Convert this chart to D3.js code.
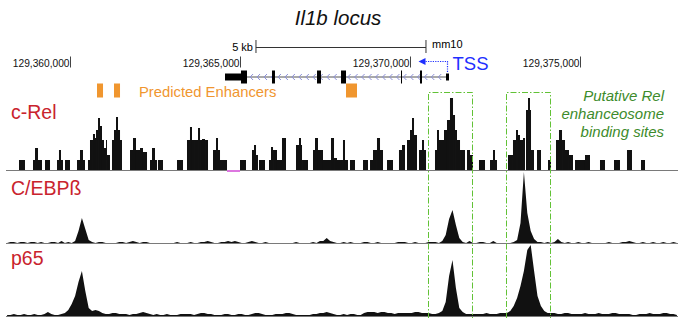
<!DOCTYPE html>
<html>
<head>
<meta charset="utf-8">
<script src="https://cdn.jsdelivr.net/npm/d3@7"></script>
<style>
  body { margin: 0; background: #fff; }
  svg { display: block; font-family: "Liberation Sans", Arial, Helvetica, sans-serif; }
</style>
</head>
<body>
<div id="browser"></div>
<script>
// positions are bp offsets from chr11:129,360,000 (mm10)
var ORIGIN = 129360000;
var viewStart = -1900;
var viewEnd = 17900;
var tickPositions = [0, 5000, 10000, 15000];
var scaleBarStart = 5470;
var scaleBarLength = 5000;

// c-Rel bedGraph: [start, end, reads]
var cRel = [
  [-1500, -1324, 1],
  [-1088, -1029, 1], [-1029, -941, 2.2], [-941, -824, 1],
  [-735, -588, 1],
  [-382, -324, 1], [-324, -265, 2], [-265, -206, 1],
  [-147, 0, 1],
  [206, 294, 1], [294, 382, 2], [382, 441, 1],
  [529, 588, 1], [588, 676, 3], [676, 735, 3.6], [735, 765, 3.2], [765, 824, 4], [824, 882, 5.2],
  [882, 941, 4.4], [941, 1000, 3], [1000, 1059, 2.2], [1059, 1088, 3], [1088, 1176, 1.5],
  [1235, 1294, 3], [1294, 1353, 4], [1353, 1412, 5.3], [1412, 1471, 4], [1471, 1529, 3],
  [1765, 1853, 2], [1853, 1941, 3.2], [1941, 2059, 2],
  [2059, 2147, 2.2], [2147, 2265, 1.8],
  [2353, 2412, 1], [2412, 2500, 2.2], [2500, 2559, 1],
  [2588, 2735, 1],
  [3147, 3324, 1],
  [3441, 3529, 3], [3529, 3588, 4.3], [3588, 3676, 3],
  [3676, 3765, 3], [3765, 3824, 4.2], [3824, 3882, 3],
  [3882, 3971, 3.1], [3971, 4059, 3],
  [4206, 4294, 2], [4294, 4353, 3.2], [4353, 4412, 2],
  [4412, 4618, 1],
  [5000, 5176, 1],
  [5353, 5412, 2], [5412, 5471, 2.5], [5471, 5529, 1.5],
  [5559, 5735, 1],
  [5853, 5912, 1], [5912, 5971, 2.3], [5971, 6088, 2], [6088, 6235, 1], [6235, 6353, 3.2],
  [6647, 6735, 2.5], [6735, 6794, 3.2], [6794, 6824, 2.5],
  [6824, 7000, 1],
  [7147, 7206, 2], [7206, 7294, 3.2], [7294, 7441, 2],
  [7441, 7676, 1], [7676, 7765, 3.2], [7765, 7853, 1.2],
  [7853, 8029, 1], [8029, 8088, 3], [8088, 8176, 1],
  [8235, 8382, 1],
  [8618, 8765, 1],
  [8824, 8912, 1], [8912, 9029, 2], [9029, 9118, 3.2], [9118, 9206, 2],
  [9324, 9500, 1],
  [9676, 9765, 2], [9765, 9853, 2.5],
  [9912, 10000, 3], [10000, 10059, 4], [10059, 10118, 5.2], [10118, 10206, 3.5],
  [10265, 10353, 2], [10353, 10412, 3], [10412, 10471, 2],
  [10735, 10794, 2], [10794, 10853, 4], [10853, 10912, 3], [10912, 11000, 3], [11000, 11088, 4],
  [11088, 11176, 5], [11176, 11265, 7.2], [11265, 11324, 5.5], [11324, 11382, 4],
  [11382, 11471, 3], [11471, 11618, 2],
  [11676, 11765, 2], [11765, 11853, 1.5],
  [12029, 12206, 1],
  [12353, 12441, 1], [12441, 12500, 2], [12500, 12559, 1],
  [12882, 13029, 1.5],
  [13029, 13118, 3], [13118, 13176, 4], [13176, 13235, 3.5],
  [13235, 13324, 3], [13324, 13382, 3.2],
  [13412, 13471, 6], [13471, 13529, 7.2], [13529, 13559, 6],
  [13559, 13647, 2],
  [13735, 13853, 2],
  [14059, 14147, 1],
  [14294, 14382, 3], [14382, 14471, 4], [14471, 14559, 3],
  [14559, 14676, 2], [14676, 14794, 1.5],
  [14853, 15147, 1],
  [15147, 15294, 1.5],
  [15588, 15735, 1],
  [16000, 16176, 1],
  [16382, 16529, 2],
  [16794, 16912, 1]
];
var cRelNoData = [[4618, 5000]];

// fixedStep wiggles, 100 bp bins starting at viewStart
var wigStep = 100;
var cebpb = [
  0, 1, 1, 0, 1, 1, 0, 1, 1, 0,
  1, 0, 0, 1, 1, 0, 2, 0, 1, 0,
  2, 12, 25, 14, 3, 1, 0, 1, 1, 0,
  0, 0, 0, 1, 1, 0, 1, 2, 1, 0,
  1, 1, 0, 0, 0, 0, 0, 0, 0, 0,
  1, 0, 0, 0, 1, 0, 0, 1, 1, 2,
  1, 0, 0, 1, 1, 2, 1, 2, 1, 0,
  0, 1, 2, 1, 0, 0, 1, 0, 0, 0,
  0, 0, 0, 0, 0, 1, 0, 0, 0, 0,
  1, 0, 2, 2, 5, 2, 1, 0, 0, 1,
  0, 1, 0, 0, 0, 1, 1, 0, 0, 1,
  0, 0, 0, 0, 0, 1, 1, 1, 0, 0,
  1, 0, 0, 0, 1, 1, 1, 0, 2, 8,
  24, 33, 18, 5, 1, 0, 2, 0, 0, 1,
  1, 0, 0, 2, 0, 0, 0, 0, 0, 1,
  3, 20, 71, 30, 12, 4, 1, 1, 0, 1,
  0, 1, 4, 1, 0, 1, 0, 0, 1, 0,
  0, 1, 0, 0, 0, 0, 0, 1, 0, 0,
  0, 1, 1, 2, 1, 0, 0, 1, 0, 0,
  1, 0, 0, 1, 0, 0, 1, 0
];
var p65 = [
  1, 1, 2, 1, 1, 2, 1, 1, 2, 1,
  1, 2, 4, 2, 1, 1, 2, 3, 6, 12,
  20, 34, 45, 25, 8, 5, 6, 5, 3, 2,
  2, 3, 3, 2, 2, 2, 1, 2, 2, 3,
  4, 3, 2, 1, 2, 1, 1, 2, 1, 1,
  1, 2, 2, 2, 2, 1, 2, 3, 3, 2,
  2, 1, 1, 1, 2, 2, 1, 1, 2, 2,
  1, 1, 2, 3, 3, 2, 1, 1, 1, 2,
  2, 2, 3, 3, 2, 1, 1, 1, 1, 1,
  2, 2, 3, 3, 4, 3, 2, 1, 1, 2,
  1, 2, 2, 1, 1, 3, 4, 4, 4, 3,
  4, 4, 3, 3, 2, 3, 3, 3, 3, 3,
  4, 4, 3, 3, 3, 2, 2, 3, 5, 14,
  40, 56, 28, 8, 4, 2, 2, 2, 2, 2,
  2, 3, 2, 2, 2, 3, 3, 3, 5, 10,
  18, 30, 45, 66, 71, 45, 20, 10, 5, 3,
  3, 3, 2, 2, 3, 3, 2, 2, 2, 2,
  3, 2, 2, 2, 3, 2, 2, 2, 3, 3,
  2, 2, 2, 2, 1, 1, 2, 2, 2, 3,
  2, 2, 2, 3, 3, 2, 2, 1
];

// Il1b gene model (minus strand)
var exons = [
  [4559, 5029, 'utr'], [5029, 5206, 'cds'], [5941, 6029, 'cds'], [7265, 7382, 'cds'],
  [7971, 8118, 'cds'], [9735, 9765, 'cds'], [10294, 10353, 'cds'], [11059, 11147, 'utr']
];
var intron = [5206, 11059];
var tss = 11103;
var enhancers = [[794, 971], [1294, 1471], [8118, 8441]];
var bindingSites = [[10529, 11824], [12824, 14118]];
var siteLabel = ['Putative Rel', 'enhanceosome', 'binding sites'];

(function(d3) {

  'use strict';

  var Browser = function(element) {
    this.element = element;
    this.width = 678;
    this.height = 318;
    this.svg = null;
    this.x = d3.scaleLinear().domain([viewStart, viewEnd]).range([5.4, 678.6]);
  };

  Browser.prototype = {

    init: function() {
      this.setSvg();
      this.drawHeader();
      this.drawGene();
      this.drawEnhancers();
      this.drawBedGraph(cRel, 170, 7.2);
      this.drawWig(cebpb, 243, 72);
      this.drawWig(p65, 316, 72);
      this.drawLabels();
      this.drawSites();
    },

    setSvg: function() {
      this.svg = d3.select(this.element).append('svg')
        .attr('width', this.width)
        .attr('height', this.height);
    },

    drawHeader: function() {
      var x = this.x;
      this.svg.append('text')
        .attr('x', 338).attr('y', 25)
        .attr('text-anchor', 'middle')
        .style('font-size', '20.5px').style('font-style', 'italic')
        .attr('fill', '#111')
        .text('Il1b locus');

      var bar = this.svg.append('g').attr('stroke', '#333').attr('stroke-width', 1);
      var x0 = x(scaleBarStart), x1 = x(scaleBarStart + scaleBarLength);
      bar.append('line').attr('x1', x0).attr('x2', x1).attr('y1', 47.5).attr('y2', 47.5);
      bar.append('line').attr('x1', x0).attr('x2', x0).attr('y1', 40).attr('y2', 53);
      bar.append('line').attr('x1', x1).attr('x2', x1).attr('y1', 40).attr('y2', 53);
      this.svg.append('text').attr('x', x0 - 3).attr('y', 51)
        .attr('text-anchor', 'end').style('font-size', '11px').text('5 kb');
      this.svg.append('text').attr('x', x1 + 6).attr('y', 48)
        .style('font-size', '11px').text('mm10');

      var axis = d3.axisBottom(x)
        .tickValues(tickPositions)
        .tickSize(11)
        .tickFormat(function(d) { return d3.format(',')(ORIGIN + d); });
      var g = this.svg.append('g').attr('transform', 'translate(0,56.5)').call(axis);
      g.select('.domain').remove();
      g.selectAll('line').attr('stroke', '#444');
      g.selectAll('text')
        .attr('text-anchor', 'end').attr('x', -1).attr('y', 10).attr('dy', 0)
        .attr('fill', '#111')
        .style('font-size', '10.2px')
        .style('font-family', '"Liberation Sans", Arial, sans-serif');
    },

    drawGene: function() {
      var x = this.x, y = 77;
      var g = this.svg.append('g');
      g.append('line')
        .attr('x1', x(intron[0])).attr('x2', x(intron[1]))
        .attr('y1', y).attr('y2', y)
        .attr('stroke', '#555').attr('stroke-width', 1);
      var chevrons = d3.range(intron[0] + 120, intron[1] - 60, 205);
      g.selectAll('path.chev').data(chevrons).enter().append('path')
        .attr('class', 'chev')
        .attr('d', function(d) { var cx = x(d); return 'M' + (cx + 2) + ',' + (y - 3) + 'L' + (cx - 1) + ',' + y + 'L' + (cx + 2) + ',' + (y + 3); })
        .attr('fill', 'none').attr('stroke', '#8b8fd8').attr('stroke-width', 1);
      g.selectAll('rect').data(exons).enter().append('rect')
        .attr('x', function(d) { return x(d[0]); })
        .attr('width', function(d) { return Math.max(1, x(d[1]) - x(d[0])); })
        .attr('y', function(d) { return d[2] === 'utr' ? y - 3.5 : y - 6.5; })
        .attr('height', function(d) { return d[2] === 'utr' ? 7 : 13; })
        .attr('fill', '#000');

      var tx = x(tss);
      g.append('path')
        .attr('d', 'M' + tx + ',72V61.5H' + (x(tss) - 24))
        .attr('fill', 'none').attr('stroke', '#1f2fff')
        .attr('stroke-width', 1.2).attr('stroke-dasharray', '1.2,1.2');
      g.append('path')
        .attr('d', 'M' + (tx - 29) + ',61.5L' + (tx - 22) + ',58L' + (tx - 22) + ',65Z')
        .attr('fill', '#1f2fff');
      g.append('text').attr('x', tx + 5).attr('y', 70)
        .style('font-size', '18.5px').attr('fill', '#1f2fff').text('TSS');
    },

    drawEnhancers: function() {
      var x = this.x;
      this.svg.append('g').selectAll('rect').data(enhancers).enter().append('rect')
        .attr('x', function(d) { return x(d[0]); })
        .attr('width', function(d) { return x(d[1]) - x(d[0]); })
        .attr('y', 83.5).attr('height', 14)
        .attr('fill', '#f0962f');
      this.svg.append('text').attr('x', 139).attr('y', 97)
        .style('font-size', '14.8px').attr('fill', '#f0962f')
        .text('Predicted Enhancers');
    },

    drawBaseline: function(base) {
      this.svg.append('line')
        .attr('x1', 6).attr('x2', 678).attr('y1', base + 0.5).attr('y2', base + 0.5)
        .attr('stroke', '#7a7a7a').attr('stroke-width', 1);
    },

    drawBedGraph: function(data, base, max) {
      var x = this.x;
      var y = d3.scaleLinear().domain([0, max]).range([base, base - 72]);
      this.drawBaseline(base);
      this.svg.append('g').selectAll('rect').data(data).enter().append('rect')
        .attr('x', function(d) { return x(d[0]); })
        .attr('width', function(d) { return x(d[1]) - x(d[0]); })
        .attr('y', function(d) { return y(d[2]); })
        .attr('height', function(d) { return base - y(d[2]); })
        .attr('fill', '#111');
      this.svg.append('g').selectAll('line').data(cRelNoData).enter().append('line')
        .attr('x1', function(d) { return x(d[0]); })
        .attr('x2', function(d) { return x(d[1]); })
        .attr('y1', base + 1).attr('y2', base + 1)
        .attr('stroke', '#dd77e0').attr('stroke-width', 2);
    },

    drawWig: function(values, base, max) {
      var x = this.x;
      var y = d3.scaleLinear().domain([0, max]).range([base, base - 72]);
      var area = d3.area()
        .x(function(d, i) { return x(viewStart + i * wigStep + wigStep / 2); })
        .y0(base)
        .y1(function(d) { return y(d); });
      this.svg.append('path').datum(values)
        .attr('d', area)
        .attr('fill', '#111');
      this.drawBaseline(base);
    },

    drawLabels: function() {
      var labels = [['c-Rel', 119], ['C/EBPß', 195], ['p65', 265]];
      this.svg.append('g').selectAll('text').data(labels).enter().append('text')
        .attr('x', 11).attr('y', function(d) { return d[1]; })
        .style('font-size', '19.5px').attr('fill', '#c9232d')
        .text(function(d) { return d[0]; });
    },

    drawSites: function() {
      var x = this.x;
      var g = this.svg.append('g')
        .attr('fill', 'none').attr('stroke', '#62c236').attr('stroke-width', 1)
        .attr('stroke-dasharray', '6,2,1.5,2');
      g.selectAll('path').data(bindingSites).enter().append('path')
        .attr('d', function(d) {
          var a = Math.round(x(d[0])) + 0.5, b = Math.round(x(d[1])) + 0.5;
          return 'M' + a + ',330V92.5H' + b + 'V330';
        });
      this.svg.append('g').selectAll('text').data(siteLabel).enter().append('text')
        .attr('x', 664).attr('y', function(d, i) { return 101 + i * 18; })
        .attr('text-anchor', 'end')
        .style('font-size', '15px').style('font-style', 'italic')
        .attr('fill', '#3d8b2b')
        .text(function(d) { return d; });
    }

  };

  var app = new Browser('#browser');
  app.init();

})(d3);
</script>
</body>
</html>
